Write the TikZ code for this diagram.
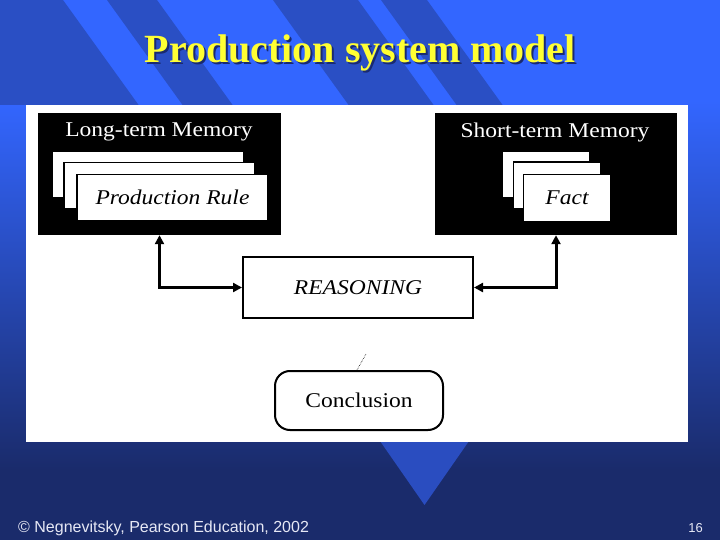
\documentclass[tikz,border=0pt]{standalone}
\usepackage{fontspec}
\setmainfont{Liberation Serif}
\newfontfamily\footfont{Liberation Sans}
\usetikzlibrary{arrows.meta}
\definecolor{bgtop}{HTML}{3366FF}
\definecolor{bgbot}{HTML}{1A2B6B}
\definecolor{stripe}{HTML}{2A4FC4}
\definecolor{tri}{HTML}{2A4DC0}
\definecolor{titleyellow}{HTML}{FFFF33}
\definecolor{shadowblue}{HTML}{1A2A70}
\definecolor{foottext}{HTML}{E6E8F5}
\newcommand{\wtxt}[1]{\scalebox{1.12}[1]{#1}}
\newcommand{\shadowed}[1]{\rlap{\hspace{2pt}\raisebox{-2pt}{\textcolor{shadowblue}{#1}}}\textcolor{titleyellow}{#1}}
\tikzset{
  memorybox/.style={fill=black, draw=none, minimum width=#1, minimum height=122pt, inner sep=0pt},
  card/.style={fill=white, draw=black, line width=1.5pt, inner sep=0pt, minimum width=#1, minimum height=46pt},
  whitelabel/.style={text=white, font=\fontsize{21}{24}\selectfont, inner sep=0pt},
  cardtext/.style={font=\fontsize{21}{24}\selectfont\itshape},
  procbox/.style={fill=white, draw=black, line width=2pt, minimum width=230pt, minimum height=61pt, inner sep=0pt, font=\fontsize{21}{24}\selectfont\itshape},
  conclbox/.style={fill=white, draw=black, line width=2pt, rounded corners=15pt, minimum width=168pt, minimum height=59pt, inner sep=0pt, font=\fontsize{21}{24}\selectfont},
  conn/.style={line width=3pt, {Triangle[length=9pt,width=9pt]}-{Triangle[length=9pt,width=9pt]}},
}
\begin{document}
\begin{tikzpicture}[x=1pt,y=-1pt]
\useasboundingbox (0,0) rectangle (720,540);
% background
\fill[bgtop] (0,0) rectangle (720,100);
\shade[top color=bgtop, bottom color=bgbot] (0,100) rectangle (720,470);
\fill[bgbot] (0,470) rectangle (720,540);
% stripes in the top band
\begin{scope}
\clip (0,0) rectangle (720,105);
\foreach \a/\b in {-90/63, 107/157, 273/358, 381/427}{
  \fill[stripe] (\a,0) -- (\b,0) -- ({\b+0.72*110},110) -- ({\a+0.72*110},110) -- cycle;
}
\end{scope}
% triangle below the panel
\fill[tri] (380,441) -- (469,441) -- (424.5,505) -- cycle;
% title
\node[anchor=base, font=\fontsize{40}{44}\selectfont\bfseries, inner sep=0pt] (title) at (360,63) {\shadowed{Production system model}};
% white panel
\fill[white] (26,105) rectangle (688,442);
% long-term memory
\node[memorybox=243pt] (ltm) at (159.5,174) {};
\node[whitelabel] (ltmlabel) at (159,132) {\wtxt{Long-term Memory}};
\node[card=191pt] (lcard1) at (148,174.5) {};
\node[card=191pt] (lcard2) at (159.5,185.5) {};
\node[card=191pt, cardtext] (rule) at (172.5,197.5) {\wtxt{Production Rule}};
% short-term memory
\node[memorybox=242pt] (stm) at (556,174) {};
\node[whitelabel] (stmlabel) at (555,132) {\wtxt{Short-term Memory}};
\node[card=87pt, minimum height=47pt] (rcard1) at (546,174.5) {};
\node[card=87pt, minimum height=47pt] (rcard2) at (557,185.5) {};
\node[card=87pt, minimum height=47pt, cardtext] (fact) at (567,198) {\wtxt{Fact}};
% reasoning
\node[procbox] (reason) at (358,287.5) {\wtxt{REASONING}};
% conclusion
\node[conclbox] (concl) at (359,400.5) {\wtxt{Conclusion}};
% connectors
\draw[conn] (ltm.south) |- (reason.west);
\draw[conn] (stm.south) |- (reason.east);
\coordinate (dotend) at (366,354);
\draw[densely dotted, line width=0.6pt] ([xshift=-2pt]concl.north) -- (dotend);
% footer
\node[anchor=base west, text=foottext, font=\footfont\fontsize{16}{18}\selectfont, inner sep=0pt] (foot) at (18,532) {\textcopyright{} Negnevitsky, Pearson Education, 2002};
\node[anchor=base east, text=foottext, font=\footfont\fontsize{13}{15}\selectfont, inner sep=0pt] (page) at (703,532) {16};
\end{tikzpicture}
\end{document}
